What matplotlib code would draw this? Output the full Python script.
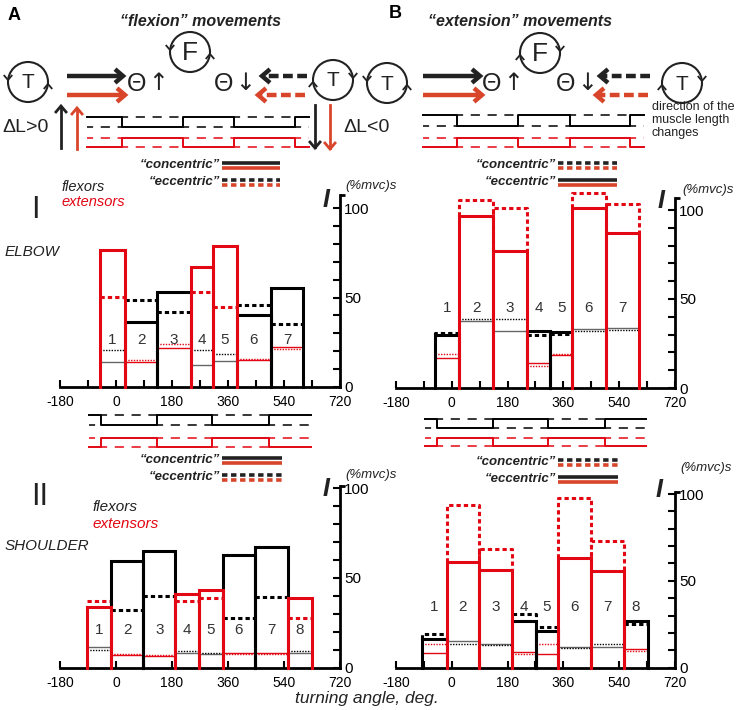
import numpy as np
import matplotlib
matplotlib.use("Agg")
import matplotlib.pyplot as plt
from matplotlib import transforms
from matplotlib.patches import Circle

plt.rcParams.update({"font.family": ["Liberation Sans", "DejaVu Sans"],
                     "axes.unicode_minus": False})

RED = "#e30613"      # bars and step lines
ARED = "#d9452b"     # schematic arrows / legend
DARK = "#222222"
W, H = 740, 710

# ------------------------------------------------------------------ data
ANGLE_TICKS = [-180, 0, 180, 360, 540, 720]
# phase transitions (deg) of the muscle-length schematics
TOP_PHASES = [-92, 18, 214, 380, 575, 620]
MID_PHASES = [-88, -48, 132, 310, 493, 628]

# A-I elbow, "flexion" movements; f = flexor box, e = extensor box
a1_edges = [-51, 29, 133, 241, 313, 388, 497, 602]
a1_muscle = ["e", "f", "f", "e", "e", "f", "f"]
a1_box = [76.5, 36.5, 52.9, 67.2, 79.0, 40.0, 55.1]
a1_dash = [50.4, 48.6, 41.7, 53.2, 44.5, 45.8, 35.2]
a1_thin = [13.8, 13.8, 22.0, 12.3, 14.7, 15.0, 22.5]
a1_dot = [20.5, 15.1, 24.0, 20.5, 18.4, 15.9, 21.2]

# B-I elbow, "extension" movements
b1_edges = [-53, 23, 134, 242, 318, 388, 496, 604]
b1_muscle = ["f", "e", "e", "f", "f", "e", "e"]
b1_box = [30.0, 96.6, 77.1, 31.8, 31.3, 101.0, 86.9]
b1_dash = [31.0, 105.6, 101.0, 29.6, 30.2, 109.4, 103.4]
b1_thin = [16.7, 37.6, 32.2, 13.9, 18.6, 33.0, 33.6]
b1_dot = [19.1, 39.0, 38.6, 12.6, 19.1, 32.2, 32.4]

# A-II shoulder, "flexion" movements
a2_edges = [-94, -16, 88, 190, 267, 343, 447, 554, 629]
a2_muscle = ["e", "f", "f", "e", "e", "f", "f", "e"]
a2_box = [34.0, 59.6, 65.2, 41.2, 43.0, 62.8, 67.4, 39.0]
a2_dash = [37.2, 32.2, 39.8, 37.2, 38.7, 27.7, 39.1, 27.7]
a2_thin = [11.5, 7.0, 6.4, 8.4, 7.9, 8.2, 8.2, 8.4]
a2_dot = [10.1, 7.9, 7.3, 9.2, 8.4, 7.9, 7.9, 9.2]

# B-II shoulder, "extension" movements
b2_edges = [-95, -16, 88, 193, 272, 342, 449, 554, 634]
b2_muscle = ["f", "e", "e", "f", "f", "e", "e", "f"]
b2_box = [16.3, 61.1, 56.3, 27.1, 21.3, 63.0, 55.9, 26.9]
b2_dash = [19.3, 93.7, 68.3, 30.8, 23.3, 97.6, 73.2, 25.0]
b2_thin = [8.3, 15.2, 13.7, 9.2, 7.7, 12.1, 12.1, 10.8]
b2_dot = [13.7, 13.4, 13.1, 7.9, 13.5, 11.2, 13.7, 9.4]

fig = plt.figure(figsize=(W / 100, H / 100), dpi=100)
ov = fig.add_axes([0, 0, 1, 1])
ov.set_xlim(0, W); ov.set_ylim(H, 0); ov.axis("off")


def px_axes(x0, x1, y0, y100):
    return fig.add_axes([x0 / W, (H - y0) / H, (x1 - x0) / W, (y0 - y100) / H])


def setup(ax, spine_top):
    ax.set_xlim(-180, 720); ax.set_ylim(0, 100)
    ax.patch.set_alpha(0)
    ax.spines["top"].set_visible(False); ax.spines["left"].set_visible(False)
    ax.spines["right"].set_bounds(0, spine_top)
    ax.spines["right"].set_linewidth(2); ax.spines["bottom"].set_linewidth(2)
    ax.yaxis.tick_right()
    ax.set_yticks([0, 50, 100])
    ax.set_yticks([10, 20, 30, 40, 60, 70, 80, 90], minor=True)
    ax.set_xticks(ANGLE_TICKS)
    ax.set_xticklabels([str(t) for t in ANGLE_TICKS])
    ax.set_xticks([-90, 90, 270, 450, 630], minor=True)
    ax.tick_params(which="both", direction="in", width=1.5, length=5)
    ax.tick_params(axis="x", labelsize=10, pad=6)
    ax.tick_params(axis="y", labelsize=11, pad=3)
    tr = transforms.blended_transform_factory(ax.transAxes, ax.transData)
    ax.plot([1, 1.018], [spine_top, spine_top], transform=tr, color="k",
            lw=2, clip_on=False, solid_capstyle="butt")


def draw_bars(ax, edges, muscle, box, dash, thin, dot, num_y, dash_sides):
    order = [i for i in range(len(box)) if muscle[i] == "f"] + \
            [i for i in range(len(box)) if muscle[i] == "e"]
    for i in order:
        l, r = edges[i], edges[i + 1]
        c = RED if muscle[i] == "e" else "black"
        ac = "black" if muscle[i] == "e" else RED
        tc = "#666666" if muscle[i] == "e" else RED
        ax.plot([l, r], [thin[i]] * 2, color=tc, lw=1.0, clip_on=False, zorder=2)
        ax.plot([l, r], [dot[i]] * 2, color=ac, lw=1.0, ls=(0, (1, 1)),
                clip_on=False, zorder=2)
        if dash_sides and dash[i] > box[i]:
            ax.plot([l, l, r, r], [box[i], dash[i], dash[i], box[i]], color=c,
                    lw=2.2, ls=(0, (1.4, 1.0)), clip_on=False, zorder=3)
        else:
            ax.plot([l, r], [dash[i]] * 2, color=c, lw=2.2, ls=(0, (1.4, 1.0)),
                    clip_on=False, zorder=3)
        ax.plot([l, l, r, r], [0, box[i], box[i], 0], color=c, lw=2.2,
                solid_joinstyle="miter", clip_on=False, zorder=4)
        ax.text((l + r) / 2, num_y, str(i + 1), ha="center", va="center",
                fontsize=11, color="#333333", zorder=5)


def steps(ax, phases, hi, lo, color, start_high, dashed):
    tr = transforms.blended_transform_factory(ax.transData, ov.transData)
    levels = [hi if (k % 2 == 0) == start_high else lo for k in range(len(phases) - 1)]
    if dashed:
        for k, lev in enumerate(levels):
            ax.plot([phases[k], phases[k + 1]], [lev, lev], color=color, lw=1.1,
                    ls=(2, (6, 5)), transform=tr, clip_on=False)
    else:
        xs, ys = [], []
        for k, lev in enumerate(levels):
            xs += [phases[k], phases[k + 1]]; ys += [lev, lev]
        ax.plot(xs, ys, color=color, lw=1.4, transform=tr, clip_on=False)


def length_schematic(ax, phases, ybk, yrd):
    steps(ax, phases, ybk[0], ybk[1], "black", True, False)
    steps(ax, phases, ybk[0], ybk[1], "black", False, True)
    steps(ax, phases, yrd[0], yrd[1], RED, False, False)
    steps(ax, phases, yrd[0], yrd[1], RED, True, True)


def chevron(x, y, dx, dy, size, color, lw):
    px, py = -dy, dx
    bx, by = x - dx * size, y - dy * size
    ov.plot([bx + px * size * 0.85, x, bx - px * size * 0.85],
            [by + py * size * 0.85, y, by - py * size * 0.85],
            color=color, lw=lw, solid_joinstyle="miter", solid_capstyle="butt")


def harrow(x0, x1, y, color, dashed):
    d = 1 if x1 > x0 else -1
    ov.plot([x0, x1 - d * 2], [y, y], color=color, lw=3.2,
            ls=(0, (2.2, 1.0)) if dashed else "-", solid_capstyle="butt",
            dash_capstyle="butt")
    chevron(x1, y, d, 0, 8, color, 3.2)


def varrow(x, y0, y1, color):
    d = 1 if y1 > y0 else -1
    ov.plot([x, x], [y0, y1 - d * 1], color=color, lw=2.0)
    chevron(x, y1, 0, d, 7, color, 2.0)


def cycle(cx, cy, label, cw, size):
    ov.add_patch(Circle((cx, cy), 20, fill=False, lw=1.5, ec=DARK))
    ov.text(cx, cy + 1, label, ha="center", va="center", fontsize=size, color=DARK)
    if cw:
        chevron(cx - 20, cy + 2, 0, -1, 5, DARK, 1.3)
        chevron(cx + 20, cy - 2, 0, 1, 5, DARK, 1.3)
    else:
        chevron(cx - 20, cy - 2, 0, 1, 5, DARK, 1.3)
        chevron(cx + 20, cy + 2, 0, -1, 5, DARK, 1.3)


def legend(x0, x1, y, label, dashed):
    ov.text(x0 - 2, y + 2, label, ha="right", va="center", fontsize=9.5,
            fontweight="bold", style="italic", color=DARK)
    ls = (0, (1.5, 1.0)) if dashed else "-"
    ov.plot([x0, x1], [y - 0.5, y - 0.5], color=DARK, lw=2.6, ls=ls,
            solid_capstyle="butt", dash_capstyle="butt")
    ov.plot([x0, x1], [y + 4.5, y + 4.5], color=ARED, lw=2.6, ls=ls,
            solid_capstyle="butt", dash_capstyle="butt")


# ------------------------------------------------------------------ data axes
ax_a1 = px_axes(60, 340, 387, 208)
ax_b1 = px_axes(396, 675, 388, 210)
ax_a2 = px_axes(60, 340, 667.7, 488)
ax_b2 = px_axes(396, 675, 667.7, 494)
setup(ax_a1, 107); setup(ax_b1, 107); setup(ax_a2, 101); setup(ax_b2, 101)

draw_bars(ax_a1, a1_edges, a1_muscle, a1_box, a1_dash, a1_thin, a1_dot, 26, False)
draw_bars(ax_b1, b1_edges, b1_muscle, b1_box, b1_dash, b1_thin, b1_dot, 45, True)
draw_bars(ax_a2, a2_edges, a2_muscle, a2_box, a2_dash, a2_thin, a2_dot, 21, False)
draw_bars(ax_b2, b2_edges, b2_muscle, b2_box, b2_dash, b2_thin, b2_dot, 35, True)

# ------------------------------------------------------------------ schematics
length_schematic(ax_a1, TOP_PHASES, (117, 127), (138, 147))
length_schematic(ax_b1, TOP_PHASES, (115, 126), (138, 147))
length_schematic(ax_a1, MID_PHASES, (415, 425), (438, 447))
length_schematic(ax_b1, MID_PHASES, (419, 428), (438, 446))

ov.text(8, 15, "A", fontsize=13, fontweight="bold", va="center")
ov.text(389, 14, "B", fontsize=13, fontweight="bold", va="center")
ov.text(200, 21, "\u201cflexion\u201d movements", fontsize=11.5, fontweight="bold",
        style="italic", ha="center", va="center", color=DARK)
ov.text(520, 22, "\u201cextension\u201d movements", fontsize=11.5, fontweight="bold",
        style="italic", ha="center", va="center", color=DARK)

cycle(28, 82, "T", False, 15); cycle(190, 52, "F", False, 19); cycle(333, 80, "T", True, 15)
cycle(387, 83, "T", False, 15); cycle(540, 53, "F", True, 19); cycle(682, 83, "T", True, 15)

for xa, xb in ((67, 123), (423, 480)):
    harrow(xa, xb, 76, DARK, False)
    harrow(xa, xb + 2, 95, ARED, False)
for xa, xb in ((307, 262), (650, 600)):
    harrow(xa, xb, 76, DARK, True)
    harrow(xa - 2, xb - 4, 95, ARED, True)
for x, up in ((137, True), (224, False), (492, True), (566, False)):
    ov.text(x, 84, "\u0398", fontsize=18, ha="center", va="center", color=DARK)
    ov.text(x + 21, 83, "\u2191" if up else "\u2193", fontsize=17, ha="center",
            va="center", color=DARK, family="DejaVu Sans")

ov.text(2, 128, "\u0394L>0", fontsize=14, va="center", color=DARK)
ov.text(343, 128, "\u0394L<0", fontsize=14, va="center", color=DARK)
varrow(61, 148, 106, DARK); varrow(77, 149, 108, ARED)
varrow(315, 105, 148, DARK); varrow(330, 105, 149, ARED)
ov.text(652, 120, "direction of the\nmuscle length\nchanges", fontsize=9,
        va="center", linespacing=1.12, color=DARK)

legend(222, 280, 163, "\u201cconcentric\u201d", False)
legend(222, 280, 180, "\u201ceccentric\u201d", True)
legend(558, 617, 163, "\u201cconcentric\u201d", True)
legend(558, 617, 180, "\u201ceccentric\u201d", False)
legend(222, 282, 458, "\u201cconcentric\u201d", False)
legend(222, 282, 475, "\u201ceccentric\u201d", True)
legend(558, 618, 460, "\u201cconcentric\u201d", True)
legend(558, 618, 477, "\u201ceccentric\u201d", False)

# ------------------------------------------------------------------ labels
ov.text(35, 210, "I", fontsize=22, ha="center", va="center", color=DARK)
ov.text(62, 187, "flexors", fontsize=10.5, style="italic", va="center", color=DARK)
ov.text(62, 202, "extensors", fontsize=10.5, style="italic", va="center", color=RED)
ov.text(5, 252, "ELBOW", fontsize=11, style="italic", va="center", color=DARK)
ov.text(40, 497, "II", fontsize=22, ha="center", va="center", color=DARK)
ov.text(92, 507, "flexors", fontsize=11, style="italic", va="center", color=DARK)
ov.text(92, 524, "extensors", fontsize=11, style="italic", va="center", color=RED)
ov.text(5, 546, "SHOULDER", fontsize=11, style="italic", va="center", color=DARK)

for xs, ys, xu, yu in ((326, 200, 345, 186), (661, 201, 682, 190),
                       (326, 489, 345, 475), (659, 490, 680, 468)):
    ov.text(xs, ys, "I", fontsize=18, fontweight="bold", style="italic",
            ha="center", va="center", color=DARK)
    ov.text(xu, yu, "(%mvc)s", fontsize=9.5, style="italic", va="center", color=DARK)

ov.text(367, 699, "turning angle, deg.", fontsize=12.5, style="italic",
        ha="center", va="center", color=DARK)

fig.savefig("out.png", dpi=100)
